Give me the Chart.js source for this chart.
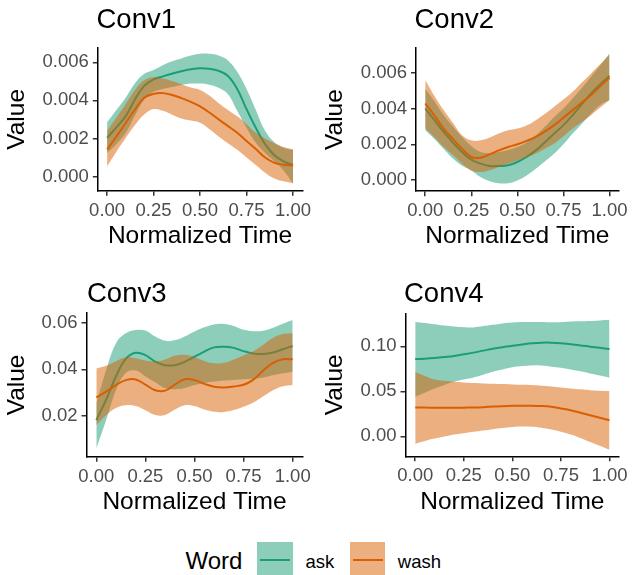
<!DOCTYPE html>
<html>
<head>
<meta charset="utf-8">
<script src="https://cdn.jsdelivr.net/npm/chart.js@4.4.1/dist/chart.umd.min.js"></script>
<style>
  html, body { margin:0; padding:0; background:#ffffff; }
  body { width:632px; height:575px; overflow:hidden; position:relative; font-family:"Liberation Sans", Arial, Helvetica, sans-serif; }
  canvas { position:absolute; }
  .ptitle { position:absolute; font-size:27.5px; line-height:1; color:#000; white-space:nowrap; }
  .lgtitle { position:absolute; font-size:24px; line-height:1; color:#000; white-space:nowrap; }
  .lgtext { position:absolute; font-size:18.5px; line-height:1; color:#000; white-space:nowrap; }
  .key { position:absolute; }
  .keyline { position:absolute; height:2px; }
</style>
</head>
<body>
<canvas id="c1" width="316" height="261" style="left:0px;top:0px"></canvas>
<canvas id="c2" width="316" height="261" style="left:316px;top:0px"></canvas>
<canvas id="c3" width="316" height="267" style="left:0px;top:260px"></canvas>
<canvas id="c4" width="316" height="267" style="left:316px;top:260px"></canvas>

<div class="ptitle" style="left:96.5px;top:5px">Conv1</div>
<div class="ptitle" style="left:414.5px;top:5px">Conv2</div>
<div class="ptitle" style="left:87px;top:279px">Conv3</div>
<div class="ptitle" style="left:404px;top:279px">Conv4</div>

<div class="lgtitle" style="left:185.5px;top:548.7px">Word</div>
<div class="key" id="key0" style="left:257.3px;top:541.7px;width:35.4px;height:34.6px"><div class="keyline" id="kl0" style="left:2.7px;top:17.3px;width:30px"></div></div>
<div class="lgtext" id="lt0" style="left:305.5px;top:552.6px"></div>
<div class="key" id="key1" style="left:350px;top:541.7px;width:35.4px;height:34.6px"><div class="keyline" id="kl1" style="left:2.7px;top:17.3px;width:30px"></div></div>
<div class="lgtext" id="lt1" style="left:397.8px;top:552.6px"></div>

<script>
// ---------------- DATA ----------------
const times = [0, 0.05, 0.1, 0.15, 0.2, 0.25, 0.3, 0.35, 0.4, 0.45, 0.5, 0.55, 0.6, 0.65, 0.7, 0.75, 0.8, 0.85, 0.9, 0.95, 1];
const words = ['ask', 'wash'];
const panelNames = ['Conv1', 'Conv2', 'Conv3', 'Conv4'];

const xTicks = [0, 0.25, 0.5, 0.75, 1];
const xTickLabels = ['0.00', '0.25', '0.50', '0.75', '1.00'];

const conv1Ticks = [0, 0.002, 0.004, 0.006];
const conv1TickLabels = ['0.000', '0.002', '0.004', '0.006'];
const conv2Ticks = [0, 0.002, 0.004, 0.006];
const conv2TickLabels = ['0.000', '0.002', '0.004', '0.006'];
const conv3Ticks = [0.02, 0.04, 0.06];
const conv3TickLabels = ['0.02', '0.04', '0.06'];
const conv4Ticks = [0, 0.05, 0.10];
const conv4TickLabels = ['0.00', '0.05', '0.10'];

// Conv1
const conv1AskMean  = [0.00203, 0.00258, 0.00317, 0.00405, 0.00476, 0.00510, 0.00526, 0.00540, 0.00553, 0.00563, 0.00569, 0.00566, 0.00555, 0.00528, 0.0046, 0.00354, 0.00256, 0.0017, 0.00112, 0.0008, 0.0006];
const conv1AskUpper = [0.00285, 0.0035, 0.00414, 0.0049, 0.0054, 0.0056, 0.00585, 0.00605, 0.0062, 0.00635, 0.00645, 0.00645, 0.00635, 0.0061, 0.0055, 0.0046, 0.0035, 0.0024, 0.0018, 0.0015, 0.0014];
const conv1AskLower = [0.00124, 0.0017, 0.00228, 0.0032, 0.00405, 0.00445, 0.0046, 0.0047, 0.00481, 0.00488, 0.00488, 0.00482, 0.00466, 0.00432, 0.00345, 0.00256, 0.00177, 0.00124, 0.0008, 0.0003, -0.00036];
const conv1WashMean  = [0.00142, 0.0021, 0.00281, 0.00352, 0.00414, 0.00434, 0.00438, 0.00428, 0.00412, 0.00392, 0.00368, 0.00336, 0.003, 0.00265, 0.0023, 0.00186, 0.00144, 0.001, 0.00072, 0.00062, 0.00057];
const conv1WashUpper = [0.00239, 0.0031, 0.00381, 0.00455, 0.00505, 0.00521, 0.00515, 0.00502, 0.00485, 0.00468, 0.00455, 0.00425, 0.00385, 0.0035, 0.00316, 0.00275, 0.0023, 0.002, 0.00175, 0.00155, 0.00142];
const conv1WashLower = [0.00053, 0.0013, 0.00202, 0.0027, 0.00326, 0.00354, 0.00345, 0.00325, 0.00305, 0.00294, 0.00283, 0.0025, 0.0021, 0.00175, 0.0014, 0.001, 0.0006, 0.0002, -0.0001, -0.00025, -0.00036];

// Conv2
const conv2AskMean  = [0.004, 0.00335, 0.00269, 0.0021, 0.00157, 0.00114, 0.00092, 0.00079, 0.00079, 0.00083, 0.00101, 0.00129, 0.00166, 0.00212, 0.0026, 0.00307, 0.00363, 0.00425, 0.00484, 0.00535, 0.00581];
const conv2AskUpper = [0.0051, 0.0044, 0.00363, 0.003, 0.00241, 0.0019, 0.00157, 0.00152, 0.00157, 0.00168, 0.00185, 0.0021, 0.00251, 0.003, 0.00353, 0.004, 0.00456, 0.00515, 0.00578, 0.0064, 0.00708];
const conv2AskLower = [0.0028, 0.0023, 0.00175, 0.0012, 0.0008, 0.00054, 0.00017, -0.00006, -0.00017, -0.00017, -0.00002, 0.00026, 0.00064, 0.00105, 0.00148, 0.002, 0.0026, 0.00315, 0.00372, 0.0042, 0.00447];
const conv2WashMean  = [0.00428, 0.0036, 0.00288, 0.0023, 0.00176, 0.00129, 0.00125, 0.00144, 0.00166, 0.00185, 0.002, 0.00219, 0.00241, 0.00272, 0.00307, 0.00348, 0.00391, 0.00433, 0.00475, 0.00525, 0.00572];
const conv2WashUpper = [0.00559, 0.0047, 0.00391, 0.0032, 0.0025, 0.00222, 0.00222, 0.00238, 0.0026, 0.00278, 0.00288, 0.00305, 0.00335, 0.0037, 0.0041, 0.0045, 0.00493, 0.00545, 0.00596, 0.00648, 0.00699];
const conv2WashLower = [0.00288, 0.0024, 0.00185, 0.0014, 0.00092, 0.00054, 0.00045, 0.00055, 0.00073, 0.00092, 0.0011, 0.00128, 0.00148, 0.00175, 0.00204, 0.00245, 0.00288, 0.00325, 0.00363, 0.00405, 0.00447];

// Conv3
const conv3AskMean  = [0.0183, 0.027, 0.037, 0.0445, 0.0471, 0.0461, 0.0433, 0.0418, 0.0418, 0.0432, 0.0454, 0.0476, 0.0494, 0.0497, 0.0492, 0.0478, 0.0468, 0.0466, 0.0472, 0.0486, 0.05];
const conv3AskUpper = [0.0254, 0.0397, 0.0511, 0.0554, 0.0568, 0.0566, 0.054, 0.0522, 0.0524, 0.054, 0.0562, 0.058, 0.0592, 0.0594, 0.0585, 0.0569, 0.0563, 0.0565, 0.0578, 0.0595, 0.0611];
const conv3AskLower = [0.0062, 0.0183, 0.0311, 0.0385, 0.0395, 0.037, 0.0345, 0.032, 0.0315, 0.032, 0.0333, 0.0342, 0.0348, 0.0352, 0.0355, 0.0358, 0.036, 0.0365, 0.0375, 0.0383, 0.039];
const conv3WashMean  = [0.028, 0.0305, 0.0333, 0.0354, 0.0357, 0.0335, 0.0311, 0.0309, 0.0335, 0.0358, 0.0354, 0.0338, 0.0326, 0.0323, 0.0327, 0.0334, 0.0356, 0.0395, 0.0428, 0.0443, 0.0443];
const conv3WashUpper = [0.0404, 0.0415, 0.0435, 0.0452, 0.0448, 0.0438, 0.0433, 0.0442, 0.0458, 0.0462, 0.0452, 0.0436, 0.0426, 0.0428, 0.0442, 0.046, 0.0478, 0.0505, 0.0535, 0.0551, 0.0554];
const conv3WashLower = [0.0161, 0.0204, 0.0235, 0.0247, 0.0243, 0.0225, 0.0205, 0.0205, 0.0228, 0.0247, 0.0243, 0.0228, 0.0219, 0.0218, 0.0226, 0.024, 0.0258, 0.0285, 0.0311, 0.0328, 0.0333];

// Conv4
const conv4AskMean  = [0.0859, 0.0863, 0.087, 0.088, 0.0892, 0.0911, 0.093, 0.0952, 0.0974, 0.099, 0.1007, 0.102, 0.1033, 0.1041, 0.1041, 0.1035, 0.1022, 0.101, 0.0996, 0.0983, 0.097];
const conv4AskUpper = [0.1271, 0.126, 0.1245, 0.123, 0.1219, 0.1212, 0.121, 0.1225, 0.124, 0.1255, 0.1264, 0.127, 0.1271, 0.1271, 0.1267, 0.1268, 0.1275, 0.1278, 0.1282, 0.1288, 0.1294];
const conv4AskLower = [0.0439, 0.0485, 0.0532, 0.057, 0.0606, 0.063, 0.0654, 0.0685, 0.0717, 0.0742, 0.0766, 0.078, 0.0788, 0.0786, 0.0773, 0.0762, 0.0743, 0.0722, 0.0699, 0.0675, 0.0651];
const conv4WashMean  = [0.032, 0.0319, 0.0318, 0.0317, 0.0316, 0.0318, 0.032, 0.0324, 0.0331, 0.0335, 0.0338, 0.034, 0.034, 0.0336, 0.0327, 0.031, 0.029, 0.0262, 0.0234, 0.0206, 0.0178];
const conv4WashUpper = [0.0717, 0.067, 0.0632, 0.0617, 0.0606, 0.0599, 0.0592, 0.0588, 0.0584, 0.058, 0.0576, 0.0572, 0.0569, 0.0562, 0.0554, 0.0543, 0.0532, 0.0522, 0.0513, 0.0507, 0.0502];
const conv4WashLower = [-0.0082, -0.0052, -0.0026, -0.0003, 0.0019, 0.0034, 0.0049, 0.0063, 0.0078, 0.0091, 0.0104, 0.0108, 0.0106, 0.0095, 0.0075, 0.005, 0.002, -0.0018, -0.0063, -0.0105, -0.0149];

// ---------------- STYLE ----------------
const lineColors = ['#1B9E77', '#D95F02'];
const fillColors = ['rgba(27,158,119,0.5)', 'rgba(217,95,2,0.5)'];
const FF = '"Liberation Sans", Arial, Helvetica, sans-serif';
Chart.defaults.font.family = FF;

// legend
for (let k = 0; k < 2; k++) {
  document.getElementById('key' + k).style.background = fillColors[k];
  document.getElementById('kl' + k).style.background = lineColors[k];
  document.getElementById('lt' + k).textContent = words[k];
}

const panels = [
  { id: 'c1', W: 316, H: 260.5, L: 97.8, R: 302.3, T: 48, B: 190.3, yPad: 5.25, yMin: -0.00075, yMax: 0.00675,
    ticks: conv1Ticks, labels: conv1TickLabels,
    series: [[conv1AskMean, conv1AskLower, conv1AskUpper], [conv1WashMean, conv1WashLower, conv1WashUpper]] },
  { id: 'c2', W: 316, H: 260.5, L: 100, R: 305, T: 48, B: 190.7, yPad: 7, yMin: -0.00062, yMax: 0.00738,
    ticks: conv2Ticks, labels: conv2TickLabels,
    series: [[conv2AskMean, conv2AskLower, conv2AskUpper], [conv2WashMean, conv2WashLower, conv2WashUpper]] },
  { id: 'c3', W: 316, H: 266.75, L: 86.5, R: 302.5, T: 53, B: 196.6, yPad: 5.25, yMin: 0.0026, yMax: 0.0641,
    ticks: conv3Ticks, labels: conv3TickLabels,
    series: [[conv3AskMean, conv3AskLower, conv3AskUpper], [conv3WashMean, conv3WashLower, conv3WashUpper]] },
  { id: 'c4', W: 316, H: 266.75, L: 89.5, R: 305, T: 53.3, B: 196, yPad: 7, yMin: -0.0222, yMax: 0.1367,
    ticks: conv4Ticks, labels: conv4TickLabels,
    series: [[conv4AskMean, conv4AskLower, conv4AskUpper], [conv4WashMean, conv4WashLower, conv4WashUpper]] }
];

function pts(arr) { return times.map((t, i) => ({ x: t, y: arr[i] })); }

panels.forEach(p => {
  const datasets = [];
  p.series.forEach((s, k) => {
    const base = 6 - 3 * k;
    datasets.push({ label: words[k] + ' upper', data: pts(s[2]), borderWidth: 0, borderColor: 'rgba(0,0,0,0)', pointRadius: 0, fill: false, tension: 0.4, order: base });
    datasets.push({ label: words[k] + ' lower', data: pts(s[1]), borderWidth: 0, borderColor: 'rgba(0,0,0,0)', pointRadius: 0, fill: '-1', backgroundColor: fillColors[k], tension: 0.4, order: base - 1 });
    datasets.push({ label: words[k], data: pts(s[0]), borderWidth: 2, borderColor: lineColors[k], pointRadius: 0, fill: false, tension: 0.4, order: base - 2 });
  });
  new Chart(document.getElementById(p.id), {
    type: 'line',
    data: { datasets },
    options: {
      responsive: false,
      animation: false,
      devicePixelRatio: 1,
      events: [],
      layout: { padding: { left: 0, top: p.T, right: p.W - p.R, bottom: 0 } },
      plugins: { legend: { display: false }, tooltip: { enabled: false }, title: { display: false } },
      scales: {
        x: {
          type: 'linear', min: -0.05, max: 1.05,
          afterBuildTicks: sc => { sc.ticks = xTicks.map(v => ({ value: v })); },
          afterFit: sc => { sc.height = p.H - p.B; },
          ticks: { autoSkip: false, maxRotation: 0, padding: 4, color: '#4D4D4D', font: { size: 18.5 },
                   callback: v => xTickLabels[xTicks.indexOf(v)] },
          grid: { display: true, drawOnChartArea: false, drawTicks: true, tickLength: 5, color: '#333333', tickColor: '#333333', lineWidth: 1.5 },
          border: { display: true, color: '#000000', width: 1.5 },
          title: { display: true, text: 'Normalized Time', color: '#000000', font: { size: 24.5, lineHeight: 1 }, padding: { top: 0, bottom: 12.5 } }
        },
        y: {
          type: 'linear', min: p.yMin, max: p.yMax,
          afterBuildTicks: sc => { sc.ticks = p.ticks.map(v => ({ value: v })); },
          afterFit: sc => { sc.width = p.L; },
          ticks: { autoSkip: false, padding: 4, color: '#4D4D4D', font: { size: 18.5 },
                   callback: v => p.labels[p.ticks.indexOf(v)] },
          grid: { display: true, drawOnChartArea: false, drawTicks: true, tickLength: 5, color: '#333333', tickColor: '#333333', lineWidth: 1.5 },
          border: { display: true, color: '#000000', width: 1.5 },
          title: { display: true, text: 'Value', color: '#000000', font: { size: 24.5, lineHeight: 1 }, padding: { top: p.yPad, bottom: 0 } }
        }
      }
    }
  });
});
</script>
</body>
</html>
